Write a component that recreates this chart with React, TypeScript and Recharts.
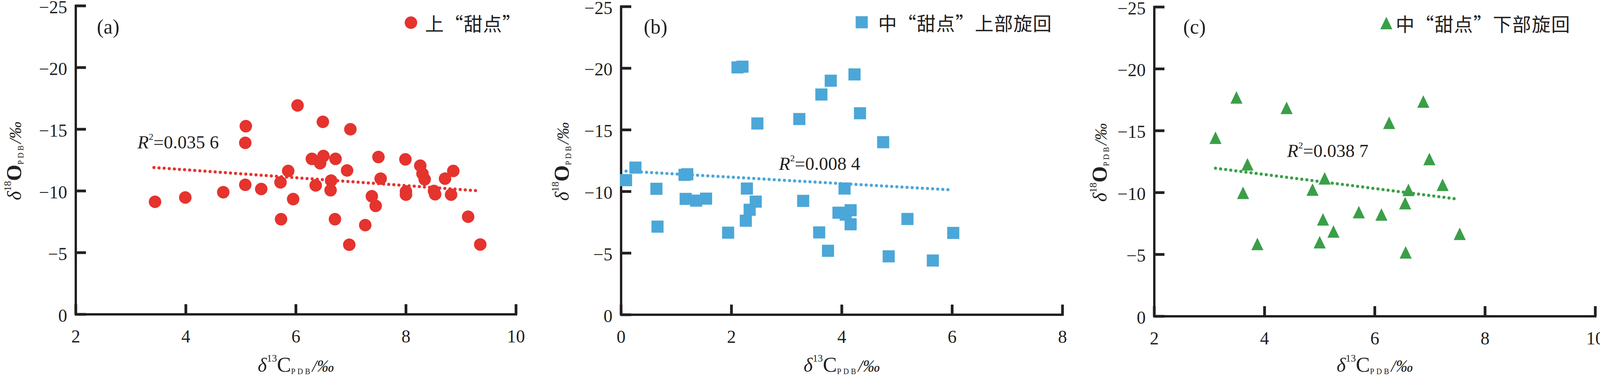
import React from "react";
import { ScatterChart, Scatter, XAxis, YAxis, Legend, Customized } from "recharts";

const INK = "#231f20";
const SERIF = '"Liberation Serif", "Times New Roman", serif';
const CJK = '"Noto Sans CJK SC", "Noto Sans CJK JP", sans-serif';

const RED = "#e5332e";
const BLUE = "#4ba7d8";
const GREEN = "#3a9f48";

// axis ticks
const yTicks = [0, -5, -10, -15, -20, -25];
const xTicksA = [2, 4, 6, 8, 10];
const xTicksB = [0, 2, 4, 6, 8];
const xTicksC = [2, 4, 6, 8, 10];

// (a) 上“甜点”
const upperName = "上“甜点”";
const upperC13 = [
  3.44, 3.99, 4.68, 5.09, 5.08, 5.08, 5.37, 5.72, 5.73, 5.86, 5.95, 6.03, 6.29, 6.44,
  6.5, 6.36, 6.49, 6.64, 6.63, 6.72, 6.71, 6.93, 6.99, 6.97, 7.26, 7.38, 7.45, 7.5,
  7.54, 7.99, 8.0, 8.0, 8.26, 8.3, 8.34, 8.51, 8.53, 8.71, 8.82, 8.86, 9.13, 9.35,
];
const upperO18 = [
  -9.12, -9.47, -9.9, -15.25, -13.9, -10.5, -10.16, -10.7, -7.71, -11.62, -9.34, -16.93, -12.6, -12.25,
  -12.83, -10.45, -15.6, -10.84, -10.06, -12.6, -7.71, -11.66, -15.0, -5.64, -7.23, -9.57, -8.79, -12.75,
  -11.0, -12.56, -9.96, -9.7, -12.05, -11.4, -10.94, -10.0, -9.73, -11.0, -9.7, -11.62, -7.91, -5.66,
];
const upperTrendC13 = [3.42, 9.35];
const upperTrendO18 = [-11.9, -10.0];
const upperR2 = "0.035 6";

// (b) 中“甜点”上部旋回
const midUpperName = "中“甜点”上部旋回";
const midUpperC13 = [
  0.09, 0.26, 0.64, 0.66, 1.15, 1.2, 1.17, 1.36, 1.54, 1.94, 2.11, 2.2, 2.26, 2.33, 2.28, 2.44, 2.47,
  3.23, 3.3, 3.59, 3.63, 3.75, 3.8, 3.94, 4.05, 4.07, 4.16, 4.16, 4.23, 4.33, 4.75, 4.85, 5.19, 5.65, 6.02,
];
const midUpperO18 = [
  -10.92, -11.94, -10.22, -7.15, -11.35, -11.4, -9.4, -9.26, -9.42, -6.66, -20.07, -20.13, -7.63, -8.52, -10.24, -9.18, -15.52,
  -15.88, -9.24, -6.68, -17.87, -5.19, -18.99, -8.28, -10.24, -8.12, -8.48, -7.34, -19.5, -16.35, -14.0, -4.74, -7.77, -4.4, -6.64,
];
const midUpperTrendC13 = [0.09, 5.96];
const midUpperTrendO18 = [-11.65, -10.14];
const midUpperR2 = "0.008 4";

// (c) 中“甜点”下部旋回
const midLowerName = "中“甜点”下部旋回";
const midLowerC13 = [
  3.11, 3.49, 3.69, 3.61, 3.87, 4.4, 4.87, 5.09, 5.06, 5.0, 5.25, 5.71, 6.12, 6.26, 6.55, 6.61, 6.56, 6.88, 6.99, 7.23, 7.54,
];
const midLowerO18 = [
  -14.43, -17.69, -12.29, -9.98, -5.85, -16.85, -10.24, -11.15, -7.84, -5.99, -6.86, -8.42, -8.23, -15.64, -9.15, -10.22, -5.17, -17.36, -12.71, -10.63, -6.67,
];
const midLowerTrendC13 = [3.11, 7.46];
const midLowerTrendO18 = [-11.97, -9.5];
const midLowerR2 = "0.038 7";

const pairs = (xs: number[], ys: number[]) => xs.map((x, i) => ({ x, y: ys[i] }));
const fmt = (v: number) => (v < 0 ? `\u2212${-v}` : `${v}`);

// marker shapes
const circleShape = (p: any) => <circle cx={p.cx} cy={p.cy} r={16} fill={p.fill} />;
const squareShape = (p: any) => <rect x={p.cx - 15.5} y={p.cy - 15.5} width={31} height={31} fill={p.fill} />;
const triangleShape = (p: any) => (
  <path d={`M${p.cx},${p.cy - 16}L${p.cx + 15.5},${p.cy + 16}L${p.cx - 15.5},${p.cy + 16}Z`} fill={p.fill} />
);

// ticks point inward, so each mark is drawn with its label
function YTick(props: any) {
  const x = Number(props.x);
  const y = Number(props.y);
  return (
    <g>
      <rect x={x} y={y - 3.5} width={26} height={7} fill={INK} />
      <text x={x - 22} y={y + 3} textAnchor="end" dominantBaseline="central" fontFamily={SERIF} fontSize={46} fill={INK}>
        {fmt(props.payload.value)}
      </text>
    </g>
  );
}

function XTick(props: any) {
  const x = Number(props.x);
  const y = Number(props.y);
  return (
    <g>
      <rect x={x - 3.5} y={y - 26} width={7} height={26} fill={INK} />
      <text x={x} y={y + 72} textAnchor="middle" fontFamily={SERIF} fontSize={46} fill={INK}>
        {props.payload.value}
      </text>
    </g>
  );
}

function IsotopeTitle({ x, y, rotate, digits, element }: any) {
  return (
    <text
      x={x}
      y={y}
      textAnchor="middle"
      fontFamily={SERIF}
      fill={INK}
      transform={rotate ? `rotate(-90 ${x} ${y})` : undefined}
    >
      <tspan fontSize={50} fontStyle="italic">δ</tspan>
      <tspan fontSize={26} dy={-26}>{digits}</tspan>
      <tspan fontSize={54} dy={26} fontWeight={rotate ? "bold" : "normal"}>{element}</tspan>
      <tspan fontSize={20} dy={6} letterSpacing={5}>PDB</tspan>
      <tspan fontSize={44} dy={-6} fontStyle="italic">/‰</tspan>
    </text>
  );
}

function Panel(props: any) {
  const {
    left, width, axisLeft, axisRight, top, bottom, xDomain, xTicks, data, trend, color, shape,
    name, tag, r2, r2At, marker, textX, textLength, yTitleGap,
  } = props;
  const rel = (v: number) => v - left;
  const legendLeft = marker[0] - 22;
  const legendTop = marker[1] - 40;
  const axisStyle = { stroke: INK, strokeWidth: 6, strokeLinecap: "square" };

  return (
    <div style={{ position: "absolute", left, top: 0 }}>
      <ScatterChart
        width={width}
        height={968}
        margin={{ top, right: left + width - axisRight, bottom: 0, left: 0 }}
      >
        <XAxis
          type="number"
          dataKey="x"
          domain={xDomain}
          ticks={xTicks}
          interval={0}
          tickSize={0}
          tickMargin={0}
          tickLine={false}
          tick={<XTick />}
          height={968 - bottom}
          stroke={INK}
          axisLine={axisStyle}
        />
        <YAxis
          type="number"
          dataKey="y"
          domain={[-25, 0]}
          reversed
          ticks={yTicks}
          interval={0}
          tickSize={0}
          tickMargin={0}
          tickLine={false}
          tick={<YTick />}
          width={axisLeft - left}
          stroke={INK}
          axisLine={axisStyle}
        />
        <Scatter
          data={trend}
          line={{ stroke: color, strokeWidth: 8, strokeDasharray: "0 13.1", strokeLinecap: "round" }}
          shape={() => <g />}
          legendType="none"
          isAnimationActive={false}
        />
        <Scatter name={name} data={data} fill={color} shape={shape} isAnimationActive={false} />
        <Legend
          layout="horizontal"
          verticalAlign="middle"
          align="center"
          wrapperStyle={{ left: rel(legendLeft), top: legendTop, width: textLength + 120, height: 80 }}
          content={() => (
            <svg width={textLength + 120} height={80} style={{ overflow: "visible", display: "block" }}>
              {shape({ cx: 22, cy: 40, fill: color })}
              <text
                x={textX - legendLeft}
                y={40}
                dominantBaseline="central"
                fontFamily={CJK}
                fontSize={48}
                fill={INK}
                textLength={textLength}
                lengthAdjust="spacing"
                style={{ fontFeatureSettings: '"fwid"' }}
              >
                {name}
              </text>
            </svg>
          )}
        />
        <Customized
          component={() => (
            <g>
              <text x={rel(tag[1])} y={86} fontFamily={SERIF} fontSize={52} fill={INK}>
                {tag[0]}
              </text>
              <text x={rel(r2At[0])} y={r2At[1]} fontFamily={SERIF} fontSize={47} fill={INK}>
                <tspan fontStyle="italic">R</tspan>
                <tspan fontSize={24} dy={-22}>2</tspan>
                <tspan dy={22}>={r2}</tspan>
              </text>
              <IsotopeTitle x={rel((axisLeft + axisRight) / 2)} y={952} digits="13" element="C" />
              <IsotopeTitle x={rel(axisLeft - yTitleGap)} y={(top + bottom) / 2 + 2} rotate digits="18" element="O" />
            </g>
          )}
        />
      </ScatterChart>
    </div>
  );
}

const panels = [
  {
    left: 0, width: 1400, axisLeft: 194, axisRight: 1321, top: 15, bottom: 805,
    xDomain: [2, 10], xTicks: xTicksA,
    data: pairs(upperC13, upperO18), trend: pairs(upperTrendC13, upperTrendO18),
    color: RED, shape: circleShape, name: upperName, tag: ["(a)", 248], r2: upperR2, r2At: [352, 380],
    marker: [1052, 58], textX: 1088, textLength: 246, yTitleGap: 140,
  },
  {
    left: 1390, width: 1380, axisLeft: 1590, axisRight: 2720, top: 17, bottom: 806,
    xDomain: [0, 8], xTicks: xTicksB,
    data: pairs(midUpperC13, midUpperO18), trend: pairs(midUpperTrendC13, midUpperTrendO18),
    color: BLUE, shape: squareShape, name: midUpperName, tag: ["(b)", 1648], r2: midUpperR2, r2At: [1994, 435],
    marker: [2206, 57], textX: 2248, textLength: 444, yTitleGap: 134,
  },
  {
    left: 2770, width: 1337, axisLeft: 2955, axisRight: 4084, top: 18, bottom: 810,
    xDomain: [2, 10], xTicks: xTicksC,
    data: pairs(midLowerC13, midLowerO18), trend: pairs(midLowerTrendC13, midLowerTrendO18),
    color: GREEN, shape: triangleShape, name: midLowerName, tag: ["(c)", 3029], r2: midLowerR2, r2At: [3295, 402],
    marker: [3549, 59], textX: 3573, textLength: 446, yTitleGap: 122,
  },
];

export default function App() {
  return (
    <div style={{ position: "absolute", left: 0, top: 0, width: 4107, height: 968, background: "#fff", overflow: "hidden" }}>
      {panels.map((p) => (
        <Panel key={p.tag[0] as string} {...p} />
      ))}
    </div>
  );
}
